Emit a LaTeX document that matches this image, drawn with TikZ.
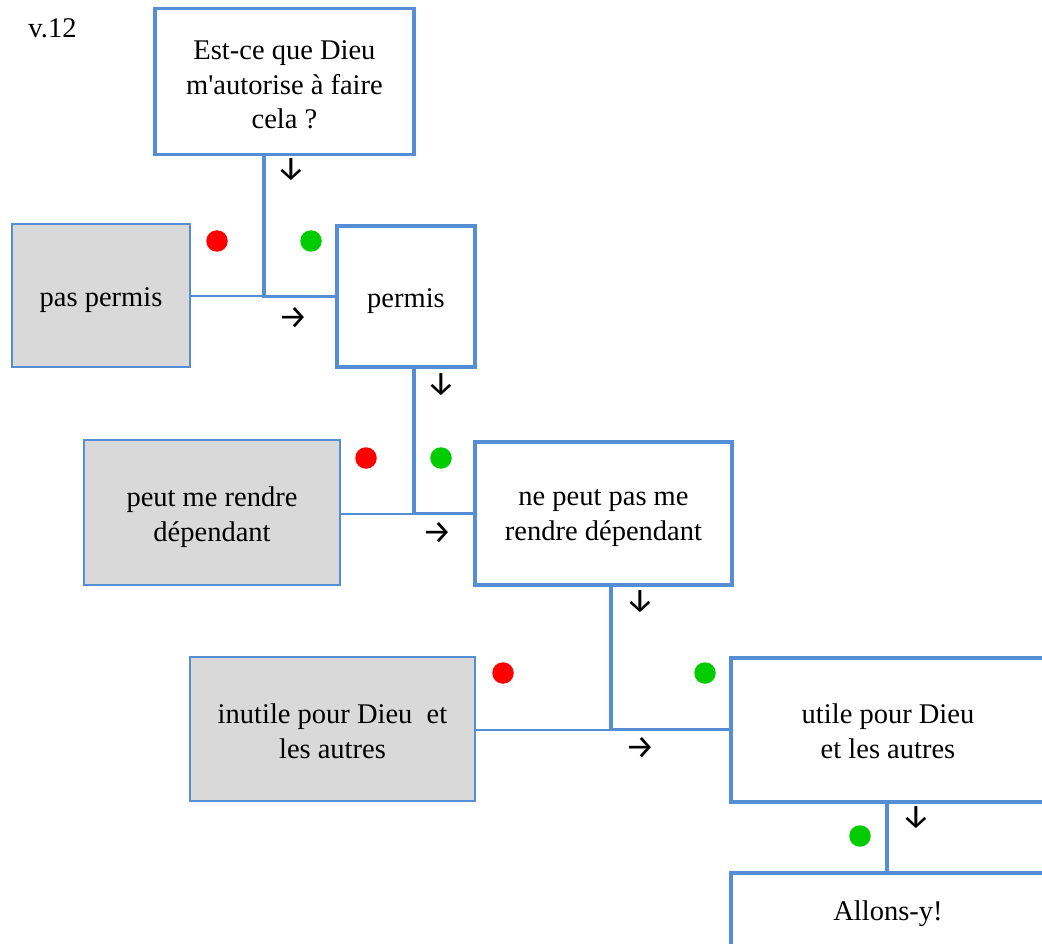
\documentclass[tikz,border=0pt]{standalone}
\usepackage{fontspec}
\setmainfont{Liberation Serif}
\newfontfamily\arrfont{Fira Sans}
\definecolor{bl}{RGB}{85,142,213}
\definecolor{gf}{RGB}{217,217,217}
\definecolor{rd}{RGB}{255,0,0}
\definecolor{gn}{RGB}{0,204,0}
\begin{document}
\begin{tikzpicture}[x=1pt,y=-1pt,
  every node/.style={font=\fontsize{28.5}{34.5}\selectfont, align=center, inner sep=0pt},
  wbox/.style={draw=bl, line width=3.6pt, fill=white},
  gbox/.style={draw=bl, line width=2pt, fill=gf},
  thickline/.style={draw=bl, line width=3.6pt},
  thinline/.style={draw=bl, line width=2pt},
  rdot/.style={circle, fill=rd, minimum size=21.5pt},
  gdot/.style={circle, fill=gn, minimum size=21.5pt},
  arr/.style={font=\arrfont\fontsize{33}{36}\selectfont}]
\useasboundingbox (0,0) rectangle (1042,944);
\clip (0,0) rectangle (1042,944);

\node (ver) at (52.5,28) {v.12};

% boxes
\node[wbox, minimum width=259pt, minimum height=146pt] (q) at (284.5,81.5) {};
\node[gbox, minimum width=178pt, minimum height=143pt] (pp) at (101,295.5) {};
\node[wbox, minimum width=138pt, minimum height=141pt] (p) at (406,296.5) {};
\node[gbox, minimum width=256pt, minimum height=145pt] (pd) at (212,512.5) {};
\node[wbox, minimum width=257pt, minimum height=143pt] (np) at (603.5,513.5) {};
\node[gbox, minimum width=285pt, minimum height=144pt] (iu) at (332.5,729) {};
\node[wbox, minimum width=314pt, minimum height=144pt] (u) at (888,730) {};
\node[wbox, minimum width=314pt, minimum height=76pt] (a) at (888,911) {};

% box texts
\node (qt) at ([yshift=-3.5pt]q.center) {Est-ce que Dieu\\m\textquotesingle autorise à faire\\cela ?};
\node (ppt) at ([yshift=-5pt]pp.center) {pas permis};
\node (pt) at ([yshift=-5pt]p.center) {permis};
\node (pdt) at ([yshift=-4.5pt]pd.center) {peut me rendre\\dépendant};
\node (npt) at ([yshift=-4.5pt]np.center) {ne peut pas me\\rendre dépendant};
\node (iut) at ([yshift=-2pt]iu.center) {inutile pour Dieu~~et\\les autres};
\node (ut) at ([yshift=-1pt]u.center) {utile pour Dieu\\et les autres};
\node (at) at ([yshift=-3pt]a.center) {Allons-y!};

% junctions
\coordinate (j1) at (264,296.5);
\coordinate (j2) at (414,513.5);
\coordinate (j3) at (611,729.5);
\coordinate (j4) at (887,0);

% connectors
\draw[thinline] (pp.east |- j1) -- (j1);
\draw[thickline, line join=miter] (j1 |- q.south) -- (j1) -- (p.west |- j1);
\draw[thinline] (pd.east |- j2) -- (j2);
\draw[thickline, line join=miter] (j2 |- p.south) -- (j2) -- (np.west |- j2);
\draw[thinline] (iu.east |- j3) -- (j3);
\draw[thickline, line join=miter] (j3 |- np.south) -- (j3) -- (u.west |- j3);
\draw[thickline] (u.south -| j4) -- (a.north -| j4);

% dots
\node[rdot] (r1) at (217,241) {};
\node[gdot] (g1) at (311,241) {};
\node[rdot] (r2) at (366,458) {};
\node[gdot] (g2) at (441,458) {};
\node[rdot] (r3) at (503,673) {};
\node[gdot] (g3) at (705,673) {};
\node[gdot] (g4) at (860,836) {};

% arrow glyphs
\node[arr] (d1) at (291,170) {↓};
\node[arr] (s1) at (293,318) {→};
\node[arr] (d2) at (441,385) {↓};
\node[arr] (s2) at (437,533) {→};
\node[arr] (d3) at (640,602) {↓};
\node[arr] (s3) at (640,748) {→};
\node[arr] (d4) at (916,818) {↓};
\end{tikzpicture}
\end{document}
